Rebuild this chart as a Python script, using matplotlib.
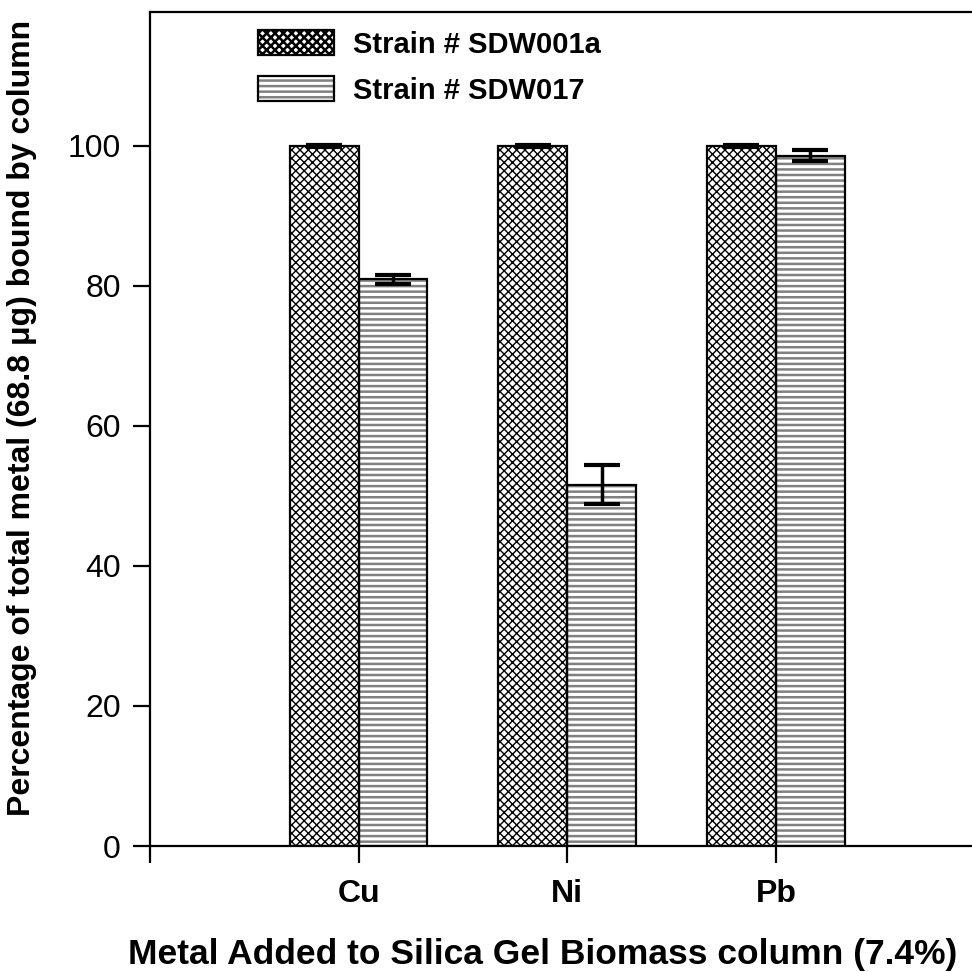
import numpy as np
import matplotlib
matplotlib.use("Agg")
import matplotlib.pyplot as plt
from matplotlib.patches import Patch

plt.rcParams['font.family'] = ['Liberation Sans', 'DejaVu Sans']

metais = ["Cu", "Ni", "Pb"]
sdw001a = [100.0, 100.0, 100.0]
sdw001a_err = [0.15, 0.15, 0.15]
sdw017 = [80.9, 51.6, 98.6]
sdw017_err = [0.6, 2.75, 0.8]

x = np.arange(len(metais))
w = 0.33

fig = plt.figure(figsize=(9.72, 9.72), dpi=100)
ax = fig.add_axes([150/972, 126/972, 822/972, 834/972])

def barras(pos, vals, hatch, hcolor, hlw):
  plt.rcParams['hatch.linewidth'] = hlw
  b = ax.bar(pos, vals, w, color='white', edgecolor=hcolor, hatch=hatch, linewidth=0, zorder=2)
  for p in b:
    if hasattr(p, 'set_hatch_linewidth'):
      p.set_hatch_linewidth(hlw)
  ax.bar(pos, vals, w, fill=False, edgecolor='black', linewidth=1.6, zorder=3)
  return b

barras(x - w/2, sdw001a, 'xxxx', 'black', 1.0)
barras(x + w/2, sdw017, '---', '0.5', 1.8)

ax.errorbar(x - w/2, sdw001a, yerr=sdw001a_err, fmt='none', ecolor='black', elinewidth=2.5, capsize=13, capthick=3, zorder=4)
ax.errorbar(x + w/2, sdw017, yerr=sdw017_err, fmt='none', ecolor='black', elinewidth=2.5, capsize=13, capthick=3, zorder=4)

ax.set_xlim(-1, 2.94)
ax.set_ylim(0, 119.1)
ax.set_yticks([0, 20, 40, 60, 80, 100])
ax.set_xticks([-1, 0, 1, 2])
ax.set_xticklabels(['', 'Cu', 'Ni', 'Pb'], fontsize=23, fontweight='bold')
ax.tick_params(axis='y', labelsize=23, length=12, width=1.6, pad=9)
ax.tick_params(axis='x', length=12, width=1.6, pad=12)
ax.spines['right'].set_visible(False)
for s in ['left', 'top', 'bottom']:
  ax.spines[s].set_linewidth(1.6)

ax.set_xlabel("Metal Added to Silica Gel Biomass column (7.4%)", fontsize=25.5, fontweight='bold')
ax.set_ylabel("Percentage of total metal (68.8 μg) bound by column", fontsize=23, fontweight='bold')
ax.xaxis.set_label_coords(0.478, -0.110)
ax.yaxis.set_label_coords(-0.137, 0.513)

# legenda com sobreposicao (hachura + contorno)
plt.rcParams['hatch.linewidth'] = 1.0
h1 = (Patch(facecolor='white', edgecolor='black', hatch='xxxx', linewidth=0),
      Patch(fill=False, edgecolor='black', linewidth=1.6))
plt.rcParams['hatch.linewidth'] = 1.8
h2 = (Patch(facecolor='white', edgecolor='0.5', hatch='---', linewidth=0),
      Patch(fill=False, edgecolor='black', linewidth=1.6))
leg = ax.legend([h1, h2], ["Strain # SDW001a", "Strain # SDW017"], loc='upper left',
                bbox_to_anchor=(108/822, 1 - 18/834), frameon=False,
                prop={'weight': 'bold', 'size': 21}, handlelength=2.6, handleheight=0.95,
                handletextpad=0.65, labelspacing=0.6, borderaxespad=0, borderpad=0)

fig.savefig("out.png", dpi=100)
